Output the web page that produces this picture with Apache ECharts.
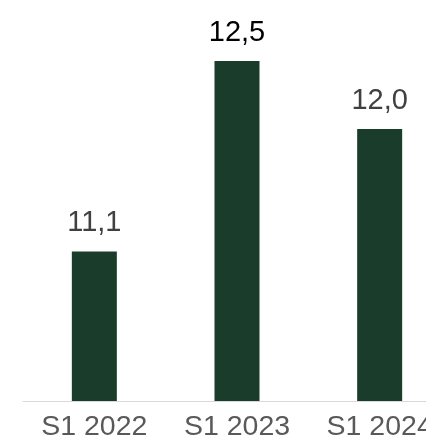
<!DOCTYPE html>
<html><head><meta charset="utf-8">
<script src="https://cdn.jsdelivr.net/npm/echarts@6/dist/echarts.min.js"></script>
<style>html,body{margin:0;padding:0;background:#fff}#c{width:426px;height:441px}</style>
</head><body><div id="c"></div>
<script>
const categories = ['S1 2022', 'S1 2023', 'S1 2024'];
const values = [11.1, 12.5, 12.0];
const labelColors = ['#404040', '#000000', '#404040'];

const chart = echarts.init(document.getElementById('c'), null, {renderer: 'canvas'});
chart.setOption({
  animation: false,
  grid: {left: 23, width: 428, top: 61, height: 340, containLabel: false, outerBoundsMode: 'none'},
  xAxis: {
    type: 'category', data: categories,
    axisLine: {lineStyle: {color: '#d9d9d9', width: 1}},
    axisTick: {show: false},
    axisLabel: {color: '#595959', fontSize: 28.5, fontFamily: 'Liberation Sans, Arial, sans-serif', margin: 12, interval: 0, hideOverlap: false}
  },
  yAxis: {type: 'value', min: 10, max: 12.5, show: false, splitLine: {show: false}},
  series: [{
    type: 'bar', barWidth: 45,
    data: values.map((v, i) => ({value: v, label: {color: labelColors[i]}})),
    itemStyle: {color: '#1a3d2b'},
    label: {show: true, position: 'top', distance: 14, fontSize: 29, fontFamily: 'Liberation Sans, Arial, sans-serif',
      formatter: p => p.value.toFixed(1).replace('.', ',')}
  }]
});
</script></body></html>
